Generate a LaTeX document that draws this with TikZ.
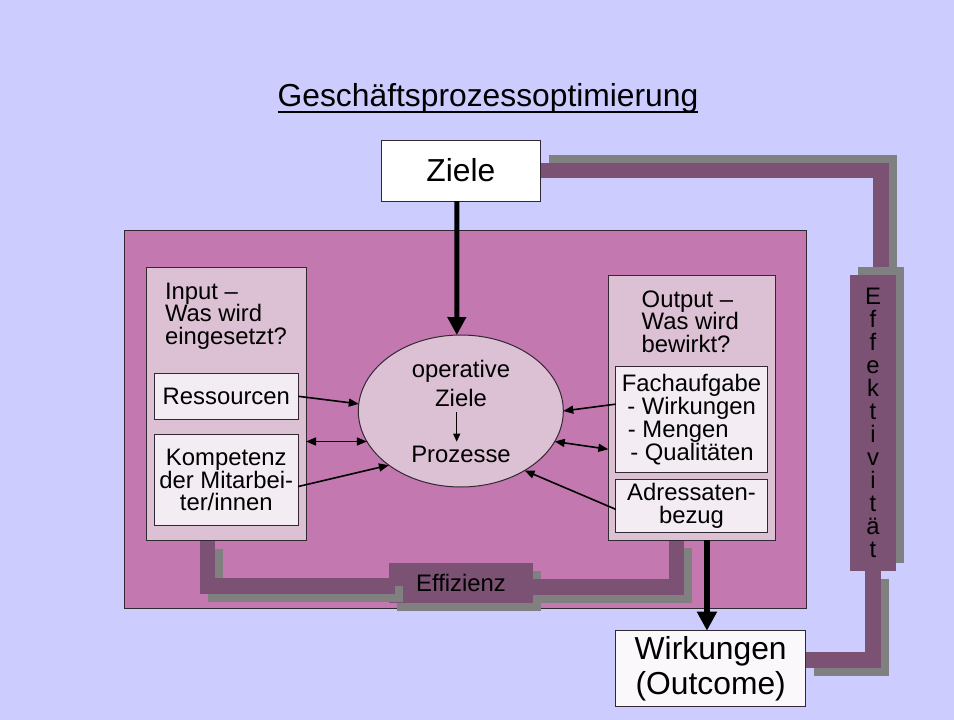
\documentclass[tikz,border=0pt]{standalone}
\usepackage{fontspec}
\setmainfont{Liberation Sans}
\usetikzlibrary{arrows.meta,shapes.geometric}
\definecolor{bgc}{RGB}{204,204,255}
\definecolor{pinkc}{RGB}{196,120,176}
\definecolor{lightc}{RGB}{220,192,212}
\definecolor{boxc}{RGB}{243,236,243}
\definecolor{wirkc}{RGB}{250,248,250}
\definecolor{purc}{RGB}{123,82,115}
\definecolor{shc}{RGB}{128,128,128}
\definecolor{edgec}{RGB}{50,40,50}
\pgfdeclarelayer{back}
\pgfdeclarelayer{effzl}
\pgfdeclarelayer{connl}
\pgfdeclarelayer{shadl}
\pgfsetlayers{back,effzl,connl,shadl,main}
\newcommand\fsmid{\fontsize{23.85}{22.5}\selectfont}
\newcommand\fsbig{\fontsize{31.8}{35.6}\selectfont}
\begin{document}
\begin{tikzpicture}[x=1pt,y=-1pt,
  boxed/.style={draw=edgec, line width=1pt, inner sep=0pt, outer sep=0pt},
  txt/.style={inner sep=0pt, outer sep=0pt},
  conn/.style={draw=purc, line width=15.6pt, line join=miter},
  connsh/.style={draw=shc, line width=15.6pt, line join=miter},
  thinarrow/.style={line width=1.6pt, -{Triangle[length=10pt,width=8pt]}},
  thinboth/.style={line width=1.6pt, {Triangle[length=10pt,width=8pt]}-{Triangle[length=10pt,width=8pt]}},
  thickarrow/.style={line width=5pt, -{Triangle[length=18pt,width=18pt]}}]
\useasboundingbox (0,0) rectangle (954,720);
\begin{pgfonlayer}{back}
\fill[bgc] (0,0) rectangle (954,720);
\draw[fill=pinkc, draw=edgec, line width=1pt] (124,230) rectangle (806,608);
\end{pgfonlayer}

% title
\node[txt, anchor=base, font=\fsbig] (title) at (488,106.7) {Geschäftsprozessoptimierung};
\draw[line width=2pt] ([yshift=-5pt]title.base west) -- ([yshift=-5pt]title.base east);

% Ziele
\node[boxed, fill=white, minimum width=159.7pt, minimum height=61pt, font=\fsbig] (ziele) at (460.85,170.5) {\raisebox{-2pt}{Ziele}};

% Input side
\node[boxed, fill=lightc, minimum width=159.3pt, minimum height=273pt] (inp) at (226.35,404.2) {};
\node[txt, anchor=north west, align=left, font=\fsmid] (inptxt) at (165,283) {Input –\\Was wird\\eingesetzt?};
\node[boxed, fill=boxc, minimum width=144pt, minimum height=46pt, font=\fsmid] (res) at (226.3,396.3) {Ressourcen};
\node[boxed, fill=boxc, minimum width=144pt, minimum height=91pt, align=center, font=\fontsize{23.85}{21.7}\selectfont] (komp) at (226.3,479.5) {Kompetenz\\der Mitarbei-\\ter/innen};

% Output side
\node[boxed, fill=lightc, minimum width=166.7pt, minimum height=264.3pt] (out) at (691.65,407.85) {};
\node[txt, anchor=north west, align=left, font=\fontsize{23.85}{22.6}\selectfont] (outtxt) at (641.7,290.4) {Output –\\Was wird\\bewirkt?};
\node[boxed, fill=boxc, minimum width=151.6pt, minimum height=106.3pt, align=left, font=\fontsize{23.85}{23}\selectfont] (fach) at (691.5,419.15) {Fachaufgabe\\\hspace*{5.4pt}- Wirkungen\\\hspace*{6pt}- Mengen\\\hspace*{8.4pt}- Qualitäten};
\node[boxed, fill=boxc, minimum width=151.6pt, minimum height=53pt, align=center, font=\fontsize{23.85}{22.3}\selectfont] (adr) at (691.5,505.8) {Adressaten-\\bezug};

% ellipse
\node[boxed, fill=lightc, ellipse, minimum width=205pt, minimum height=152pt] (ell) at (460.8,411) {};
\node[txt, anchor=north, align=center, font=\fontsize{23.85}{29}\selectfont] (opz) at (461,360.6) {operative\\Ziele};
\node[txt, anchor=north, font=\fsmid] (proz) at (461,446.2) {Prozesse};
\draw[line width=1.2pt, -{Triangle[length=8pt,width=7pt]}, shorten <=5pt, shorten >=4.5pt] ([xshift=-4.3pt]opz.south) -- ([xshift=-4.3pt]proz.north);

% Effizienz
\node[txt, minimum width=144pt, minimum height=39.6pt, font=\fsmid] (effz) at (461,583.2) {Effizienz};
\begin{pgfonlayer}{effzl}
\fill[shc] ([shift={(8,8)}]effz.south west) rectangle ([shift={(8,8)}]effz.north east);
\fill[purc] (effz.south west) rectangle (effz.north east);
\end{pgfonlayer}

% Effektivitaet
\node[txt, fill=purc, minimum width=46pt, minimum height=295.7pt, align=center, font=\fontsize{23.85}{22.94}\selectfont] (eff) at (873,422.85) {E\\f\\f\\e\\k\\t\\i\\v\\i\\t\\ä\\t};
\begin{pgfonlayer}{shadl}
\fill[shc] ([shift={(8,-8)}]eff.south west) rectangle ([shift={(8,-8)}]eff.north east);
\end{pgfonlayer}

% Wirkungen
\node[boxed, fill=wirkc, minimum width=190pt, minimum height=76pt, align=center, font=\fsbig] (wirk) at (710.7,668.7) {Wirkungen\\(Outcome)};

% connectors with shadows
\begin{pgfonlayer}{connl}
\draw[connsh] ([shift={(8,-8)}]ziele.east) -| ([shift={(16,-8)}]eff.north);
\draw[connsh] ([shift={(8,8)}]eff.south) |- ([shift={(8,-0.5)}]wirk.east);
\draw[connsh] ([shift={(-10.7,8)}]inp.south) |- ([shift={(14,10.5)}]effz.west);
\draw[connsh] ([shift={(-7,8)}]out.south) |- ([shift={(8,12)}]effz.east);
\draw[conn] (ziele.east) -| ([xshift=8pt]eff.north);
\draw[conn] (eff.south) |- ([yshift=8.5pt]wirk.east);
\draw[conn] ([xshift=-18.7pt]inp.south) |- ([xshift=6pt,yshift=-2.5pt]effz.west);
\draw[conn] ([xshift=-15pt]out.south) |- ([yshift=-4pt]effz.east);
\end{pgfonlayer}

% arrows
\draw[thickarrow] ([xshift=-4pt]ziele.south) -- ([xshift=-4pt]ell.north);
\draw[line width=6pt, -{Triangle[length=19pt,width=19pt]}] ([xshift=15.3pt]out.south) -- ([xshift=15.3pt]out.south |- wirk.north);
\draw[thinarrow] (res.east) -- (ell.176);
\draw[thinboth] (ell.198 -| inp.east) -- (ell.198);
\draw[thinarrow] ([yshift=-7pt]komp.east) -- (ell.217);
\draw[thinarrow] ([yshift=15pt]fach.west) -- (ell.east);
\draw[thinboth] (ell.-18) -- ([yshift=-41.4pt]out.west);
\draw[thinarrow] ([yshift=-3.5pt]adr.west) -- (ell.-43);
\end{tikzpicture}
\end{document}
